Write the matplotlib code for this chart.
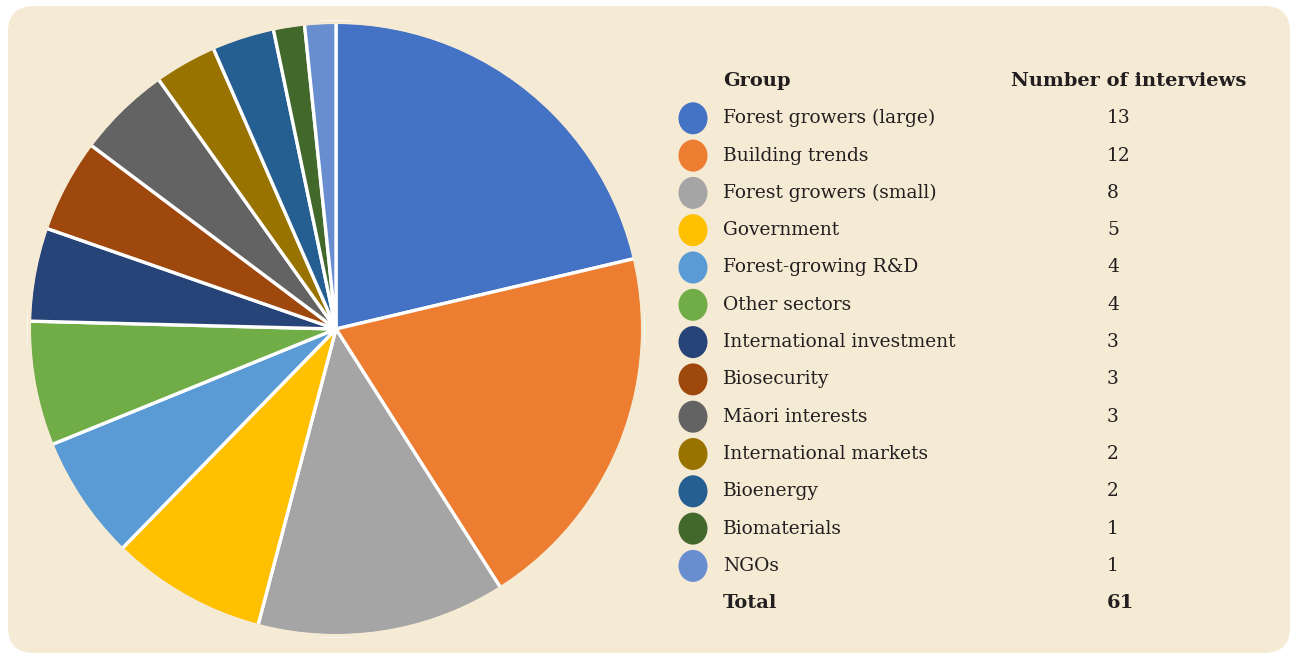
import matplotlib.pyplot as plt
from matplotlib.patches import FancyBboxPatch, Ellipse, Wedge

groups = [
    "Forest growers (large)", "Building trends", "Forest growers (small)",
    "Government", "Forest-growing R&D", "Other sectors",
    "International investment", "Biosecurity", "Māori interests",
    "International markets", "Bioenergy", "Biomaterials", "NGOs",
]
interviews = [13, 12, 8, 5, 4, 4, 3, 3, 3, 2, 2, 1, 1]
colours = [
    "#4472C4", "#ED7D31", "#A5A5A5", "#FFC000", "#5B9BD5", "#70AD47",
    "#264478", "#9E480E", "#636363", "#997300", "#255E91", "#43682B",
    "#698ED0",
]

W, H = 1292, 657
BG = "#F5EAD4"
INK = "#231F20"
FONT = ["DejaVu Serif"]

fig = plt.figure(figsize=(W / 100, H / 100), dpi=100, facecolor="white")

# full-figure axes in pixel units for the panel and the table
canvas = fig.add_axes([0, 0, 1, 1])
canvas.set_xlim(0, W)
canvas.set_ylim(H, 0)
canvas.axis("off")

panel = FancyBboxPatch((8, 6), W - 10, H - 10,
                       boxstyle="round,pad=0,rounding_size=26",
                       facecolor=BG, edgecolor="none")
canvas.add_patch(panel)

# pie with white separators; the white rim on the outside is painted over
cx, cy, r = 336, 329, 308
pie_ax = fig.add_axes([(cx - r) / W, (H - cy - r) / H, 2 * r / W, 2 * r / H])
pie_ax.pie(interviews, colors=colours, startangle=90, counterclock=False,
           radius=1.007, wedgeprops=dict(edgecolor="white", linewidth=2.4))
pie_ax.add_patch(Wedge((0, 0), 1.03, 0, 360, width=0.03,
                       facecolor=BG, edgecolor="none", zorder=5))
pie_ax.set_xlim(-1.01, 1.01)
pie_ax.set_ylim(-1.01, 1.01)
pie_ax.set_aspect("equal")
pie_ax.axis("off")

# table
x_dot, x_name, x_num = 693, 723, 1107
y0, step = 81, 37.3
fs, fs_bold = 13.4, 14.0

canvas.text(x_name, y0, "Group", fontsize=fs_bold, fontweight="bold",
            family=FONT, color=INK, va="center", ha="left")
canvas.text(1011, y0, "Number of interviews", fontsize=fs_bold,
            fontweight="bold", family=FONT, color=INK, va="center", ha="left")

for i, (name, n, c) in enumerate(zip(groups, interviews, colours)):
    y = y0 + step * (i + 1)
    canvas.add_patch(Ellipse((x_dot, y), 29, 32, facecolor=c, edgecolor="none"))
    canvas.text(x_name, y, name, fontsize=fs, family=FONT, color=INK,
                va="center", ha="left")
    canvas.text(x_num, y, str(n), fontsize=fs, family=FONT, color=INK,
                va="center", ha="left")

y_tot = y0 + step * (len(groups) + 1)
canvas.text(x_name, y_tot, "Total", fontsize=fs_bold, fontweight="bold",
            family=FONT, color=INK, va="center", ha="left")
canvas.text(x_num, y_tot, str(sum(interviews)), fontsize=fs_bold,
            fontweight="bold", family=FONT, color=INK, va="center", ha="left")

fig.savefig("out.png", dpi=100, facecolor="white")
